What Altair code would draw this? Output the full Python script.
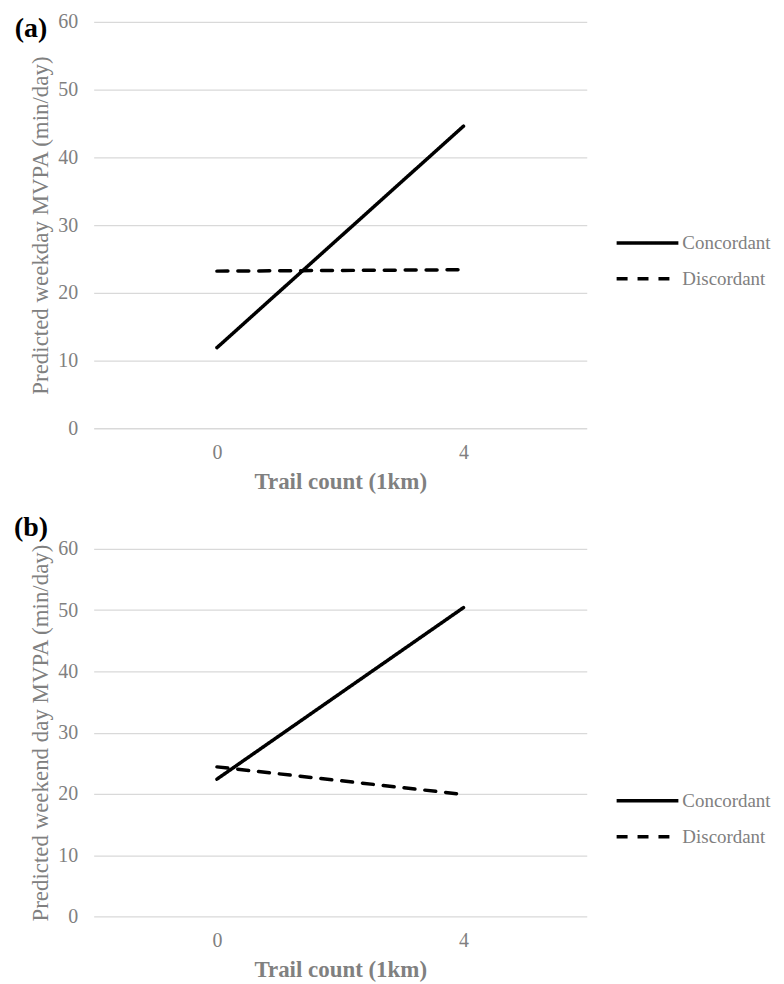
import altair as alt
import pandas as pd

trail = ["0", "4"]
groups = ["Concordant", "Discordant"]
weekday_conc = [11.9, 44.6]
weekday_disc = [23.2, 23.4]
weekend_conc = [22.4, 50.4]
weekend_disc = [24.4, 19.9]

FONT = "Liberation Serif"
GREY = "#808080"


def make_df(conc, disc):
    rows = []
    for t, v in zip(trail, conc):
        rows.append({"trail": t, "value": v, "group": groups[0]})
    for t, v in zip(trail, disc):
        rows.append({"trail": t, "value": v, "group": groups[1]})
    return pd.DataFrame(rows)


def panel(df, tag, ytitle, h, tag_y, leg_y):
    base = alt.Chart(df)
    lines = base.mark_line(strokeWidth=3.5, strokeCap="round", color="black").encode(
        x=alt.X("trail:O", sort=trail, scale=alt.Scale(type="point", padding=0.5),
                axis=alt.Axis(title="Trail count (1km)", labelAngle=0, ticks=False,
                              domain=False, labelPadding=14, titlePadding=8,
                              titleFontWeight="bold", titleFontSize=23)),
        y=alt.Y("value:Q", scale=alt.Scale(domain=[0, 60]),
                axis=alt.Axis(title=ytitle, values=[0, 10, 20, 30, 40, 50, 60],
                              ticks=False, domain=False, labelPadding=16,
                              titlePadding=5, titleFontWeight="normal",
                              titleFontSize=23, gridColor="#d9d9d9", gridWidth=1.3)),
        strokeDash=alt.StrokeDash(
            "group:N",
            scale=alt.Scale(domain=groups, range=[[1, 0], [11, 10]]),
            legend=alt.Legend(title=None, orient="none", legendX=523, legendY=leg_y,
                              symbolType="stroke", symbolSize=3844,
                              symbolStrokeColor="black", symbolStrokeWidth=3.5,
                              labelFontSize=19, labelColor=GREY, labelFont=FONT,
                              labelOffset=2, clipHeight=20, rowPadding=16),
        ),
    )
    label = alt.Chart(pd.DataFrame({"t": [tag]})).mark_text(
        font=FONT, fontSize=28, fontWeight="bold", color="black", align="center",
        baseline="middle").encode(text="t:N", x=alt.value(-63), y=alt.value(tag_y))
    return alt.layer(lines, label).properties(width=495, height=h)


a = panel(make_df(weekday_conc, weekday_disc), "(a)",
          "Predicted weekday MVPA (min/day)", 408, 7, 212)
b = panel(make_df(weekend_conc, weekend_disc), "(b)",
          "Predicted weekend day MVPA (min/day)", 369, -21, 243)

chart = alt.vconcat(a, b, spacing=21).resolve_scale(
    strokeDash="independent"
).resolve_legend(strokeDash="independent").configure_view(stroke=None).configure_axis(
    labelFont=FONT, titleFont=FONT, labelColor=GREY, titleColor=GREY, labelFontSize=20
).properties(padding={"left": 5, "top": 2, "right": 5, "bottom": 5})

chart.save("out.html", embed_options={"renderer": "svg", "actions": False})
